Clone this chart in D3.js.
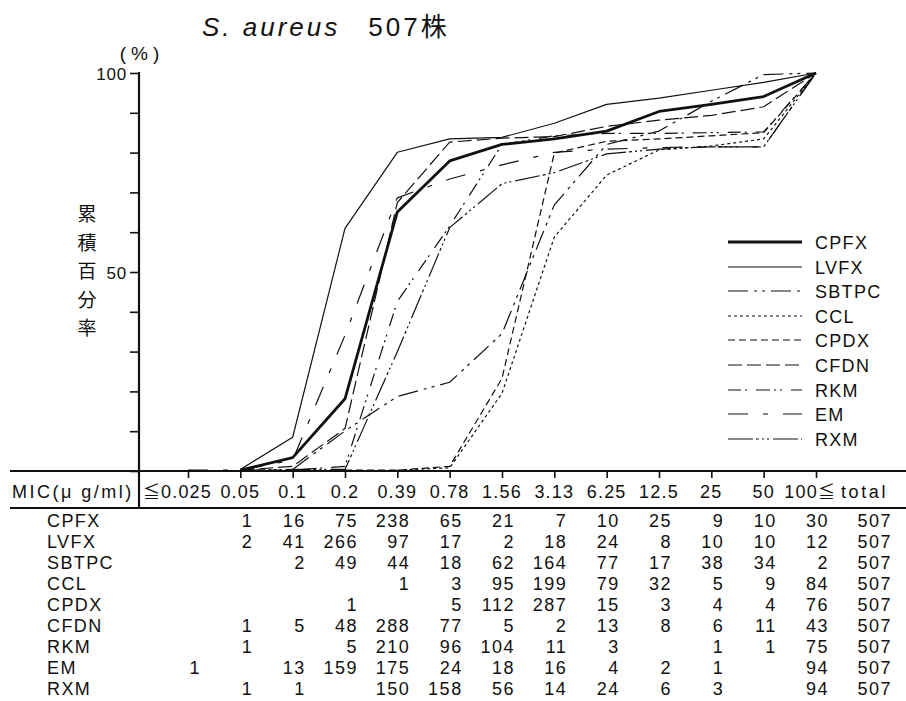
<!DOCTYPE html>
<html>
<head>
<meta charset="utf-8">
<script src="https://cdn.jsdelivr.net/npm/d3@7/dist/d3.min.js"></script>
<style>
  html, body { margin: 0; padding: 0; background: #fff; }
  svg { display: block; }
  text { font-family: "Liberation Sans", Arial, "Noto Sans CJK JP", sans-serif; fill: #111; }
  .cjk { font-family: "Noto Sans CJK JP", sans-serif; }
</style>
</head>
<body>
<svg id="chart" width="906" height="701"></svg>
<script>
// ---- data ----
const micLabels = ["≦0.025","0.05","0.1","0.2","0.39","0.78","1.56","3.13","6.25","12.5","25","50","100≦"];
const drugs = ["CPFX","LVFX","SBTPC","CCL","CPDX","CFDN","RKM","EM","RXM"];
const CPFX  = [null,1,16,75,238,65,21,7,10,25,9,10,30];
const LVFX  = [null,2,41,266,97,17,2,18,24,8,10,10,12];
const SBTPC = [null,null,2,49,44,18,62,164,77,17,38,34,2];
const CCL   = [null,null,null,null,1,3,95,199,79,32,5,9,84];
const CPDX  = [null,null,null,1,null,5,112,287,15,3,4,4,76];
const CFDN  = [null,1,5,48,288,77,5,2,13,8,6,11,43];
const RKM   = [null,1,null,5,210,96,104,11,3,null,1,1,75];
const EM    = [1,null,13,159,175,24,18,16,4,2,1,null,94];
const RXM   = [null,1,1,null,150,158,56,14,24,6,3,null,94];
const totals = [507,507,507,507,507,507,507,507,507];
const yTicks = [0,10,20,30,40,50,60,70,80,90,100];
const yTickLabels = [50,100];
const counts = [CPFX,LVFX,SBTPC,CCL,CPDX,CFDN,RKM,EM,RXM];

// ---- styles ----
const styles = {
  CPFX:  {w: 2.8, dash: null},
  LVFX:  {w: 1.2, dash: null},
  SBTPC: {w: 1.2, dash: "20,6,3,5,3,6"},
  CCL:   {w: 1.2, dash: "3,3"},
  CPDX:  {w: 1.2, dash: "7,4"},
  CFDN:  {w: 1.2, dash: "14,5"},
  RKM:   {w: 1.2, dash: "13,4,2,9,14,4,2,4,2,9"},
  EM:    {w: 1.2, dash: "20,15,5,15"},
  RXM:   {w: 1.2, dash: "25,3,3,3,2,3,2,4"}
};

const svg = d3.select("#chart");
svg.append("rect").attr("width",906).attr("height",701).attr("fill","#fff");

const axisX = 139;
const x = d3.scalePoint().domain(micLabels).range([188, 816]);
const y = d3.scaleLinear().domain([0,100]).range([471, 73]);

// title
const title = svg.append("text").attr("x", 202).attr("y", 36)
  .attr("font-size", 26).attr("letter-spacing", 3);
title.append("tspan").attr("font-style","italic").text("S. aureus");
title.append("tspan").attr("dx", 28).text("507");
title.append("tspan").attr("class","cjk").attr("font-size",26).attr("letter-spacing",0).text("株");

// (%)
svg.append("text").attr("x", 142).attr("y", 60)
  .attr("text-anchor","middle").attr("font-size", 19).attr("letter-spacing", 5).text("(%)");

// y axis
const yAxis = d3.axisLeft(y).tickValues(yTicks).tickSize(9).tickSizeOuter(0)
  .tickFormat(d => yTickLabels.includes(d) ? d : "");
const gy = svg.append("g").attr("transform", `translate(${axisX},0)`).call(yAxis);
gy.select(".domain").remove();
gy.selectAll(".tick line").attr("stroke","#111").attr("stroke-width",1.6);
gy.selectAll(".tick text").attr("font-size",17).attr("x",-12).attr("dy","0.36em")
  .attr("letter-spacing",0.8).attr("font-family","Liberation Sans, Arial, sans-serif").attr("fill","#111");
svg.append("line").attr("x1",axisX).attr("x2",axisX).attr("y1",y(100)-1).attr("y2",509)
  .attr("stroke","#111").attr("stroke-width",2.2);

// y label
const yLab = ["累","積","百","分","率"];
svg.append("g").selectAll("text").data(yLab).join("text")
  .attr("class","cjk").attr("x",87).attr("y",(d,i)=>221+i*28.5)
  .attr("text-anchor","middle").attr("font-size",19).text(d=>d);

// x axis (horizontal line + ticks)
const xAxis = d3.axisBottom(x).tickSize(7).tickSizeOuter(0).tickFormat("");
const gx = svg.append("g").attr("transform","translate(0,471)").call(xAxis);
gx.select(".domain").remove();
gx.selectAll(".tick line").attr("stroke","#111").attr("stroke-width",1.6);
svg.append("line").attr("x1",10).attr("x2",906).attr("y1",471).attr("y2",471)
  .attr("stroke","#111").attr("stroke-width",2.2);
svg.append("line").attr("x1",10).attr("x2",906).attr("y1",508).attr("y2",508)
  .attr("stroke","#111").attr("stroke-width",1.8);

// header row
svg.append("text").attr("x",12).attr("y",498).attr("font-size",18).attr("letter-spacing",2.5)
  .text("MIC(μ g/ml)");
const hdr = svg.append("g").selectAll("text").data(micLabels).join("text")
  .attr("x",(d,i)=> i===0 ? 143 : (i===12 ? x(d)+20 : x(d)))
  .attr("y",498)
  .attr("text-anchor",(d,i)=> i===0 ? "start" : (i===12 ? "end" : "middle"))
  .attr("font-size",18).attr("letter-spacing",1.2);
hdr.each(function(d){
  const t = d3.select(this);
  const parts = d.split(/(≦)/).filter(s => s.length);
  parts.forEach(p => {
    const ts = t.append("tspan").text(p);
    if (p === "≦") ts.attr("font-size",17).attr("letter-spacing",1);
  });
});
svg.append("text").attr("x", 841).attr("y",498).attr("text-anchor","start")
  .attr("font-size",18).attr("letter-spacing",2.6).text("total");

// table rows
const rowY = i => 527 + i*21;
drugs.forEach((name, r) => {
  svg.append("text").attr("x",47).attr("y",rowY(r)).attr("font-size",18)
    .attr("letter-spacing",1.4).text(name);
  counts[r].forEach((v, c) => {
    if (v === null) return;
    svg.append("text").attr("x", x(micLabels[c]) + 13).attr("y", rowY(r))
      .attr("text-anchor","end").attr("font-size",18).attr("letter-spacing",1.5).text(v);
  });
  svg.append("text").attr("x", x(micLabels[12]) + 76).attr("y", rowY(r))
    .attr("text-anchor","end").attr("font-size",18).attr("letter-spacing",1.5).text(totals[r]);
});

// cumulative curves
const line = d3.line().x(d => x(d.mic)).y(d => y(d.pct));
const gLines = svg.append("g").attr("fill","none");
drugs.forEach((name, r) => {
  const arr = counts[r].map(v => v || 0);
  const cum = Array.from(d3.cumsum(arr));
  const first = arr.findIndex(v => v > 0);
  const pts = cum.map((s, i) => ({mic: micLabels[i], pct: s / totals[r] * 100})).slice(first);
  gLines.append("path").datum(pts).attr("d", line)
    .attr("stroke","#111").attr("stroke-width", styles[name].w)
    .attr("stroke-dasharray", styles[name].dash)
    .attr("stroke-linejoin","round");
});

// legend
const legY = [242,267,291,316,340,365,390,414,439];
const gLeg = svg.append("g");
drugs.forEach((name, i) => {
  gLeg.append("line").attr("x1",728).attr("x2",802).attr("y1",legY[i]).attr("y2",legY[i])
    .attr("stroke","#111").attr("stroke-width",styles[name].w)
    .attr("stroke-dasharray",styles[name].dash);
  gLeg.append("text").attr("x",815).attr("y",legY[i]+6.5).attr("font-size",18)
    .attr("letter-spacing",1.3).text(name);
});
</script>
</body>
</html>
